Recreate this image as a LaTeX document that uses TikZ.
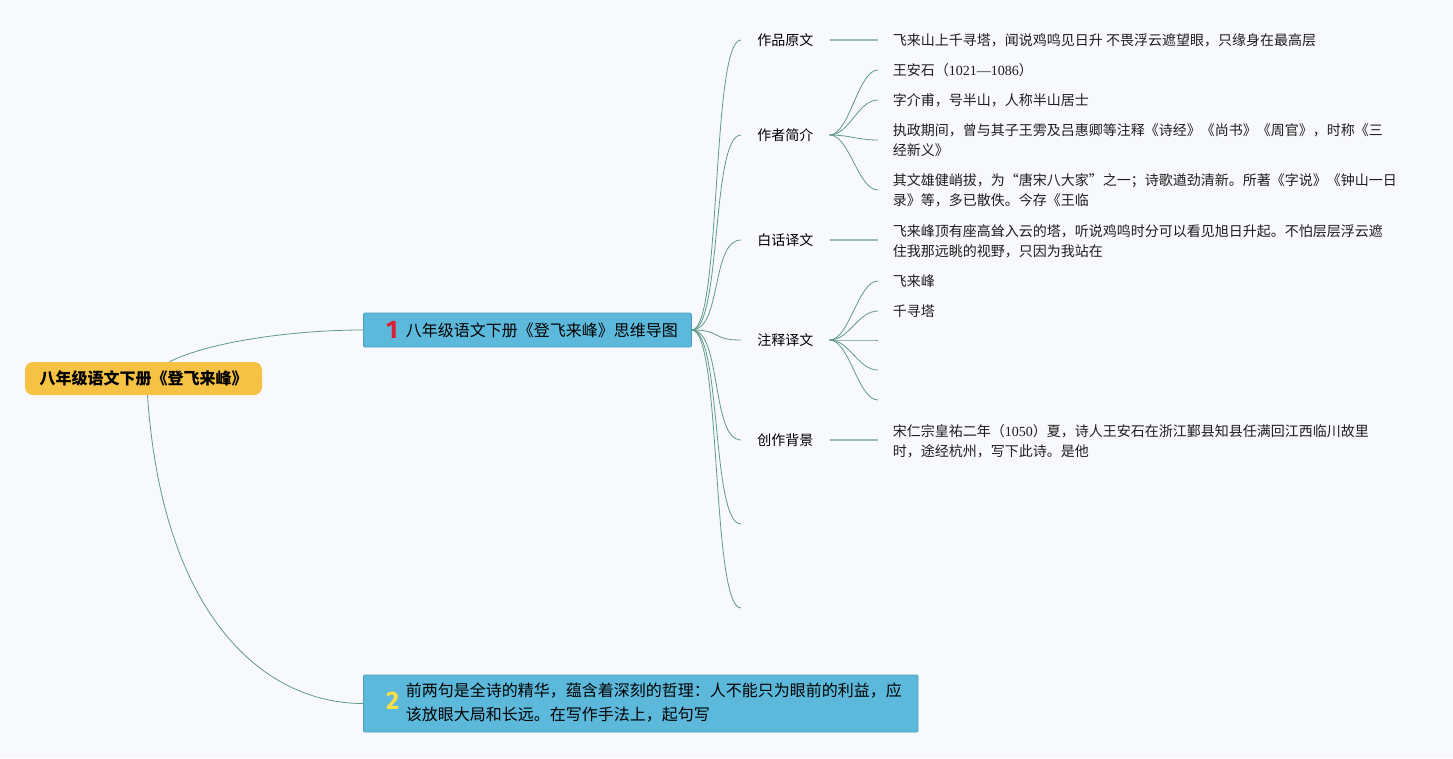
\documentclass[tikz,border=0pt]{standalone}
\usepackage{fontspec}
\setmainfont{Noto Sans CJK SC}
\newfontfamily\numfont{Liberation Serif}
\newfontfamily\badgefont{Fira Sans}
\usepackage{tikz}
\usetikzlibrary{positioning, calc}
\definecolor{mapbg}{RGB}{248,249,253}
\definecolor{mapline}{RGB}{96,155,135}
\definecolor{rootfill}{RGB}{246,194,68}
\definecolor{topicfill}{RGB}{93,185,219}
\definecolor{topicdraw}{RGB}{72,160,190}
\definecolor{badgered}{RGB}{222,32,52}
\definecolor{badgeyellow}{RGB}{250,222,70}
\definecolor{leaftext}{RGB}{30,30,30}
\newcommand\topicnum[2]{\raisebox{-1.5pt}{\badgefont\bfseries\fontsize{19}{19}\selectfont\color{#1}#2}}

\begin{document}
\begin{tikzpicture}[x=0.75pt, y=-0.75pt,
  rootbox/.style={rectangle, rounded corners=6pt, fill=rootfill, minimum width=177.75pt,
                  minimum height=24.75pt, inner sep=0pt, font=\fontsize{12}{14}\selectfont\bfseries},
  topic/.style={rectangle, rounded corners=1pt, draw=topicdraw, fill=topicfill, line width=0.6pt,
                anchor=west, inner xsep=8pt, align=left, font=\fontsize{12}{18}\selectfont},
  branch/.style={anchor=west, inner xsep=12pt, inner ysep=2pt, font=\fontsize{10.5}{15}\selectfont},
  leaf/.style={anchor=west, inner xsep=11pt, inner ysep=2pt, align=left,
               font=\fontsize{10.5}{15}\selectfont, text=leaftext},
  conn/.style={draw=mapline, line width=0.6pt},
  stub/.style={draw=mapline!65, line width=1.2pt}
]
  % Background
  \fill[mapbg] (0,0) rectangle (1453,758);

  % Root and main topics
  \node[rootbox] (root) at (143.5,378.5) {八年级语文下册《登飞来峰》};
  \node[topic, text width=230pt, minimum height=25.5pt] (t1) at (363,330)
    {\hspace*{9pt}\topicnum{badgered}{1}\hspace{6pt}八年级语文下册《登飞来峰》思维导图};
  \node[topic, text width=400pt, minimum height=42.75pt] (t2) at (363,703.5)
    {\hspace*{9pt}\topicnum{badgeyellow}{2}\hspace{5pt}\begin{tabular}[c]{@{}l@{}}前两句是全诗的精华，蕴含着深刻的哲理：人不能只为眼前的利益，应\\该放眼大局和长远。在写作手法上，起句写\end{tabular}};

  % Branches
  \node[branch] (yuanwen) at (741,40) {作品原文};
  \node[branch] (zuozhe) at (741,135) {作者简介};
  \node[branch] (baihua) at (741,240) {白话译文};
  \node[branch] (zhushi) at (741,340) {注释译文};
  \node[branch] (beijing) at (741,440) {创作背景};
  \coordinate (empty1) at (741,524);
  \coordinate (empty2) at (741,608);

  % Leaves
  \node[leaf] (yw1) at (878,40) {飞来山上千寻塔，闻说鸡鸣见日升 不畏浮云遮望眼，只缘身在最高层};
  \node[leaf] (zz1) at (878,70) {王安石（{\numfont 1021—1086}）};
  \node[leaf] (zz2) at (878,100) {字介甫，号半山，人称半山居士};
  \node[leaf] (zz3) at (878,140) {执政期间，曾与其子王雱及吕惠卿等注释《诗经》《尚书》《周官》，时称《三\\经新义》};
  \node[leaf] (zz4) at (878,190) {其文雄健峭拔，为“唐宋八大家”之一；诗歌遒劲清新。所著《字说》《钟山一日\\录》等，多已散佚。今存《王临};
  \node[leaf] (bh1) at (878,241) {飞来峰顶有座高耸入云的塔，听说鸡鸣时分可以看见旭日升起。不怕层层浮云遮\\住我那远眺的视野，只因为我站在};
  \node[leaf] (zs1) at (878,281) {飞来峰};
  \node[leaf] (zs2) at (878,311) {千寻塔};
  \coordinate (zs3) at (878,340);
  \coordinate (zs4) at (878,370);
  \coordinate (zs5) at (878,400);
  \node[leaf] (bj1) at (878,441) {宋仁宗皇祐二年（{\numfont 1050}）夏，诗人王安石在浙江鄞县知县任满回江西临川故里\\时，途经杭州，写下此诗。是他};

  % Root to topics
  \draw[conn] ($(root.north)+(26,0)$) .. controls +(40,-20) and +(-70,0) .. (t1.west);
  \draw[conn] ($(root.south)+(4,0)$) .. controls +(15,220) and +(-100,0) .. (t2.west);

  % Topic 1 to branches
  \foreach \b in {yuanwen, zuozhe, baihua, zhushi, beijing}
    \draw[conn] (t1.east) .. controls +(30,0) and +(-30,0) .. (\b.west);
  \foreach \b in {empty1, empty2}
    \draw[conn] (t1.east) .. controls +(30,0) and +(-30,0) .. (\b);

  % Branches to leaves
  \draw[stub] (yuanwen.east) -- (yuanwen.east -| yw1.west);
  \draw[stub] (baihua.east) -- (baihua.east -| bh1.west);
  \draw[stub] (beijing.east) -- (beijing.east -| bj1.west);
  \foreach \l in {zz1, zz2, zz3, zz4}
    \draw[conn] (zuozhe.east) .. controls +(20,0) and +(-20,0) .. (\l.west);
  \foreach \l in {zs1, zs2}
    \draw[conn] (zhushi.east) .. controls +(20,0) and +(-20,0) .. (\l.west);
  \foreach \l in {zs3, zs4, zs5}
    \draw[conn] (zhushi.east) .. controls +(20,0) and +(-20,0) .. (\l);
\end{tikzpicture}
\end{document}
